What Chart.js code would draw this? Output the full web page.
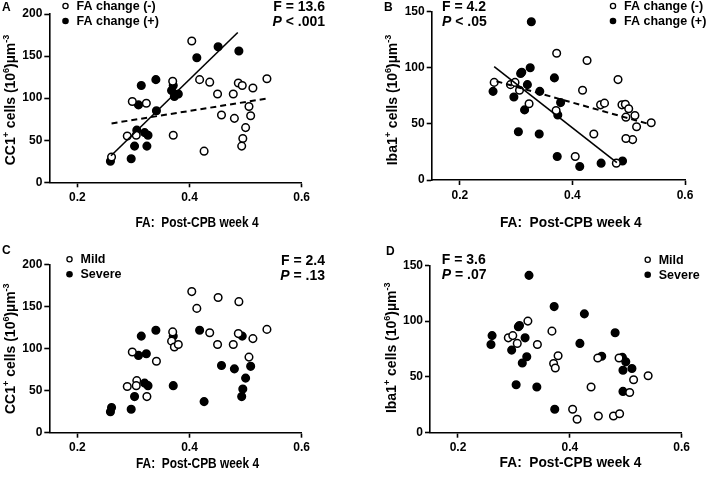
<!DOCTYPE html>
<html>
<head>
<meta charset="utf-8">
<script src="https://cdn.jsdelivr.net/npm/chart.js@4.4.0/dist/chart.umd.min.js"></script>
<style>
  body { margin: 0; background: #fff; width: 709px; height: 477px; position: relative; overflow: hidden; }
  canvas { position: absolute; }
</style>
</head>
<body>
<canvas id="pA" width="350" height="237" style="left:0;top:0"></canvas>
<canvas id="pB" width="359" height="237" style="left:350px;top:0"></canvas>
<canvas id="pC" width="350" height="240" style="left:0;top:237px"></canvas>
<canvas id="pD" width="359" height="240" style="left:350px;top:237px"></canvas>
<script>
// ---- data ----
const xTicks = [0.2, 0.4, 0.6];

// CC1+ cells vs FA (panels A and C)
const cc1FA = [0.289, 0.298, 0.306, 0.305, 0.324, 0.341, 0.370, 0.368, 0.373, 0.380,
  0.404, 0.413, 0.436, 0.451, 0.450, 0.478, 0.487, 0.488, 0.513, 0.506, 0.538,
  0.259, 0.261, 0.296, 0.302, 0.314, 0.309, 0.323, 0.320, 0.326, 0.340,
  0.371, 0.371, 0.418, 0.426, 0.457, 0.480, 0.494, 0.500, 0.495, 0.493, 0.509];
const cc1Cells = [55, 96, 62, 56, 43, 85, 120, 109, 102, 105,
  168, 148, 119, 161, 105, 105, 118, 156, 112, 90, 123,
  25, 30, 28, 43, 115, 92, 94, 59, 56, 122,
  115, 56, 122, 37, 80, 76, 115, 65, 52, 43, 79];
const cc1Severity = ['M','M','M','M','M','M','M','M','M','M','M','M','M','M','M','M','M','M','M','M','M',
  'S','S','S','S','S','S','S','S','S','S','S','S','S','S','S','S','S','S','S','S','S'];
const cc1Change = ['-','-','+','-','+','+','-','+','+','+','-','+','-','+','-','-','-','+','-','-','-',
  '+','-','+','+','+','+','-','+','+','+','+','-','-','-','-','-','-','-','-','-','-'];
const cc1FitPlus = [[0.26, 31.5], [0.486, 178]];
const cc1FitMinus = [[0.261, 70], [0.538, 99.5]];

// Iba1+ cells vs FA (panels B and D)
const ibaFA = [0.290, 0.298, 0.306, 0.325, 0.342, 0.368, 0.371, 0.374, 0.379, 0.405,
  0.413, 0.438, 0.450, 0.451, 0.478, 0.488, 0.489, 0.514, 0.507, 0.540,
  0.261, 0.259, 0.296, 0.304, 0.308, 0.310, 0.320, 0.315, 0.323, 0.327,
  0.341, 0.372, 0.373, 0.418, 0.426, 0.457, 0.481, 0.494, 0.500, 0.495, 0.511, 0.495];
const ibaCells = [85, 87, 80, 100, 79, 91, 62, 58, 69, 21,
  12, 41, 67, 15, 15, 67, 17, 47.5, 36, 51,
  87, 79, 74, 43, 95, 96, 85, 62.5, 68, 141,
  41, 113, 21, 80, 106.5, 68.5, 89.5, 67.5, 63.5, 56, 57.5, 37];
const ibaSeverity = ['M','M','M','M','M','M','M','M','M','M','M','M','M','M','M','M','M','M','M','M',
  'S','S','S','S','S','S','S','S','S','S','S','S','S','S','S','S','S','S','S','S','S','S'];
const ibaChange = ['-','-','-','+','+','+','-','+','+','-','+','-','-','+','-','-','+','-','-','-',
  '-','+','+','+','+','+','+','+','-','+','+','-','+','-','-','-','-','-','-','-','-','-'];
const ibaFitPlus = [[0.261, 101], [0.479, 15.5]];
const ibaFitMinus = [[0.265, 88], [0.535, 50]];

// ---- drawing ----
const FONT = '"Liberation Sans", Arial, Helvetica, sans-serif';

function pick(xs, ys, groups, key) {
  const out = [];
  xs.forEach((x, i) => { if (groups[i] === key) out.push({ x: x, y: ys[i] }); });
  return out;
}

function pointSet(data, filled) {
  return {
    data: data,
    pointRadius: 3.8,
    pointBorderWidth: 1.5,
    pointBorderColor: '#000',
    pointBackgroundColor: filled ? '#000' : '#fff',
    showLine: false,
    order: 2
  };
}

function fitSet(pts, dashed) {
  return {
    data: pts.map(p => ({ x: p[0], y: p[1] })),
    showLine: true,
    pointRadius: 0,
    borderColor: '#000',
    borderWidth: dashed ? 2 : 1.6,
    borderDash: dashed ? [6, 4] : [],
    order: 1
  };
}

function drawParts(ctx, parts, x, y, align) {
  let total = 0;
  parts.forEach(p => {
    ctx.font = (p[1] ? 'italic ' : '') + 'bold 14px ' + FONT;
    total += ctx.measureText(p[0]).width;
  });
  let cx = align === 'right' ? x - total : x;
  ctx.textAlign = 'left';
  parts.forEach(p => {
    ctx.font = (p[1] ? 'italic ' : '') + 'bold 14px ' + FONT;
    ctx.fillText(p[0], cx, y);
    cx += ctx.measureText(p[0]).width;
  });
}

function drawYTitle(ctx, parts, cx, cy) {
  ctx.save();
  ctx.translate(cx, cy);
  ctx.rotate(-Math.PI / 2);
  ctx.textAlign = 'left';
  ctx.textBaseline = 'alphabetic';
  let total = 0;
  parts.forEach(p => {
    ctx.font = 'bold ' + (p[1] ? 9 : 14) + 'px ' + FONT;
    total += ctx.measureText(p[0]).width;
  });
  let x = -total / 2;
  parts.forEach(p => {
    ctx.font = 'bold ' + (p[1] ? 9 : 14) + 'px ' + FONT;
    ctx.fillText(p[0], x, p[1] ? -1 : 5);
    x += ctx.measureText(p[0]).width;
  });
  ctx.restore();
}

const panelText = {
  id: 'panelText',
  afterDraw(chart, args, o) {
    const ctx = chart.ctx;
    ctx.save();
    ctx.fillStyle = '#000';
    ctx.strokeStyle = '#000';
    ctx.textBaseline = 'middle';
    ctx.textAlign = 'left';
    ctx.font = 'bold 12px ' + FONT;
    ctx.fillText(o.letter, o.letterAt[0], o.letterAt[1]);

    o.stats.forEach((line, i) => drawParts(ctx, line, o.statsAt[0], o.statsAt[1] + i * 15, o.statsAlign));

    o.legend.forEach((item, i) => {
      const y = o.legendAt[1] + i * 15;
      ctx.beginPath();
      if (item[1]) {
        ctx.arc(o.legendAt[0], y, 3.3, 0, Math.PI * 2);
        ctx.fill();
      } else {
        ctx.arc(o.legendAt[0], y, 2.6, 0, Math.PI * 2);
        ctx.lineWidth = 1.3;
        ctx.stroke();
      }
      ctx.font = 'bold 12.5px ' + FONT;
      ctx.textAlign = 'left';
      ctx.fillText(item[0], o.legendAt[0] + 11, y + 0.5);
    });

    drawYTitle(ctx, o.yTitle, o.yTitleAt[0], o.yTitleAt[1]);

    // x axis title (left panels are set a little narrower in the original)
    ctx.save();
    ctx.translate(o.xTitleAt[0], o.xTitleAt[1]);
    ctx.scale(o.xTitleScale, 1);
    ctx.font = 'bold 14px ' + FONT;
    ctx.textAlign = 'center';
    ctx.fillText('FA:  Post-CPB week 4', 0, 0);
    ctx.restore();
    ctx.restore();
  }
};

function makePanel(id, box, yMax, datasets, text) {
  const canvas = document.getElementById(id);
  const W = canvas.width, H = canvas.height;
  const tickFont = { family: FONT, size: 12, weight: 'bold' };
  new Chart(canvas.getContext('2d'), {
    type: 'scatter',
    data: { datasets: datasets },
    options: {
      responsive: false,
      animation: false,
      events: [],
      devicePixelRatio: 1,
      layout: { padding: { left: 0, top: box.top, right: W - box.right, bottom: 0 } },
      plugins: { legend: { display: false }, tooltip: { enabled: false }, panelText: text },
      scales: {
        x: {
          type: 'linear', min: 0.15, max: 0.6,
          border: { display: true, color: '#000', width: 1.6 },
          grid: { drawOnChartArea: false, drawTicks: true, tickLength: 5, tickColor: '#000', tickWidth: 1.6 },
          ticks: { color: '#000', font: tickFont, padding: 3, maxRotation: 0, callback: v => v.toFixed(1) },
          afterBuildTicks: s => { s.ticks = xTicks.map(v => ({ value: v })); },
          afterFit: s => { s.height = H - box.bottom; }
        },
        y: {
          type: 'linear', min: 0, max: yMax,
          border: { display: true, color: '#000', width: 1.6 },
          grid: { drawOnChartArea: false, drawTicks: true, tickLength: 5, tickColor: '#000', tickWidth: 1.6 },
          ticks: { color: '#000', font: tickFont, padding: 2, stepSize: 50 },
          afterFit: s => { s.width = box.left; }
        }
      }
    },
    plugins: [panelText]
  });
}

const cc1Title = [['CC1', false], ['+', true], [' cells (10', false], ['6', true], [')\u00b5m', false], ['-3', true]];
const ibaTitle = [['Iba1', false], ['+', true], [' cells (10', false], ['6', true], [')\u00b5m', false], ['-3', true]];

makePanel('pA', { left: 49.3, right: 301.7, top: 14, bottom: 182.3 }, 200, [
  pointSet(pick(cc1FA, cc1Cells, cc1Change, '-'), false),
  pointSet(pick(cc1FA, cc1Cells, cc1Change, '+'), true),
  fitSet(cc1FitPlus, false),
  fitSet(cc1FitMinus, true)
], {
  letter: 'A', letterAt: [2, 8],
  stats: [[['F = 13.6', false]], [['P', true], [' < .001', false]]], statsAt: [325, 7], statsAlign: 'right',
  legend: [['FA change (-)', false], ['FA change (+)', true]], legendAt: [65.5, 6],
  yTitle: cc1Title, yTitleAt: [10, 100], xTitleAt: [197, 223], xTitleScale: 0.85
});

makePanel('pB', { left: 81.7, right: 335, top: 11.7, bottom: 180 }, 150, [
  pointSet(pick(ibaFA, ibaCells, ibaChange, '-'), false),
  pointSet(pick(ibaFA, ibaCells, ibaChange, '+'), true),
  fitSet(ibaFitPlus, false),
  fitSet(ibaFitMinus, true)
], {
  letter: 'B', letterAt: [34, 8],
  stats: [[['F = 4.2', false]], [['P', true], [' < .05', false]]], statsAt: [92, 7], statsAlign: 'left',
  legend: [['FA change (-)', false], ['FA change (+)', true]], legendAt: [263, 6],
  yTitle: ibaTitle, yTitleAt: [41.7, 100], xTitleAt: [220.8, 223], xTitleScale: 0.98
});

makePanel('pC', { left: 49.3, right: 301.7, top: 27.7, bottom: 195.7 }, 200, [
  pointSet(pick(cc1FA, cc1Cells, cc1Severity, 'M'), false),
  pointSet(pick(cc1FA, cc1Cells, cc1Severity, 'S'), true)
], {
  letter: 'C', letterAt: [2, 14],
  stats: [[['F = 2.4', false]], [['P', true], [' = .13', false]]], statsAt: [325, 24], statsAlign: 'right',
  legend: [['Mild', false], ['Severe', true]], legendAt: [69.5, 22.3],
  yTitle: cc1Title, yTitleAt: [10, 111.7], xTitleAt: [197.5, 226.7], xTitleScale: 0.85
});

makePanel('pD', { left: 80, right: 331.7, top: 28.3, bottom: 195.7 }, 150, [
  pointSet(pick(ibaFA, ibaCells, ibaSeverity, 'M'), false),
  pointSet(pick(ibaFA, ibaCells, ibaSeverity, 'S'), true)
], {
  letter: 'D', letterAt: [36, 15],
  stats: [[['F = 3.6', false]], [['P', true], [' = .07', false]]], statsAt: [91.7, 23.3], statsAlign: 'left',
  legend: [['Mild', false], ['Severe', true]], legendAt: [297.7, 22.7],
  yTitle: ibaTitle, yTitleAt: [40.7, 110.8], xTitleAt: [220.5, 226], xTitleScale: 0.98
});
</script>
</body>
</html>
